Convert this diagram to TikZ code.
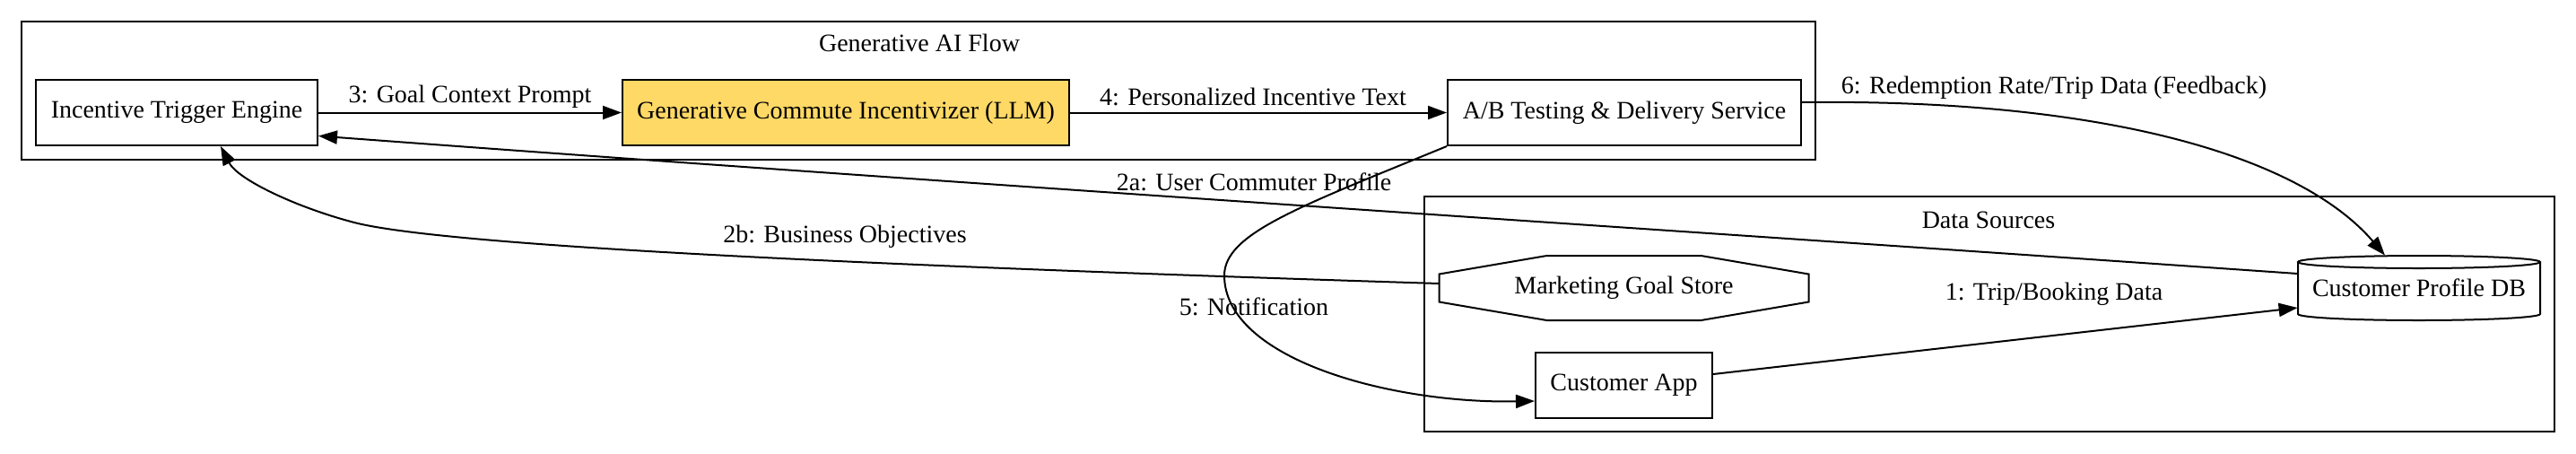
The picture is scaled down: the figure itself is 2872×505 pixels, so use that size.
\documentclass[tikz,border=0pt]{standalone}
\usepackage{fontspec}
\setmainfont{Liberation Serif}
\usetikzlibrary{arrows.meta}
\definecolor{llmyellow}{HTML}{FFD966}
\tikzset{
  txt/.style     = {font=\fontsize{14}{16}\selectfont},
  box/.style     = {txt, draw, line width=1pt, fill=white, minimum height=36.5pt, inner sep=0pt},
  llmbox/.style  = {box, fill=llmyellow},
  bare/.style    = {txt, minimum height=36pt, inner sep=0pt},
  lbl/.style     = {txt, inner sep=0pt},
  cluster/.style = {line width=1pt},
  edge/.style    = {line width=1pt, -{Triangle[length=10.5pt,width=7.5pt]}},
}

\begin{document}
\begin{tikzpicture}[x=0.5pt,y=-0.5pt]
  \useasboundingbox (0,0) rectangle (2872,505);
  % clusters
  \draw[cluster] (24,24) rectangle (2024,178);
  \node[lbl] (genai) at (1025,48) {Generative AI Flow};
  \draw[cluster] (1588,219) rectangle (2848,481);
  \node[lbl] (sources) at (2217,245) {Data Sources};

  % nodes
  \node[box, minimum width=157pt] (trigger) at (197,125.5) {Incentive Trigger Engine};
  \node[llmbox, minimum width=249pt] (llm) at (943,125.5) {Generative Commute Incentivizer (LLM)};
  \node[box, minimum width=197pt] (abtest) at (1811,125.5) {A/B Testing \& Delivery Service};
  \node[bare, minimum width=206pt] (goals) at (1810.5,321) {Marketing Goal Store};
  \draw[line width=1pt, shift={(goals.center)}] (-103pt,7.75pt) -- (-43pt,18pt) -- (43pt,18pt)
    -- (103pt,7.75pt) -- (103pt,-7.75pt) -- (43pt,-18pt) -- (-43pt,-18pt) -- (-103pt,-7.75pt) -- cycle;
  \node[box, minimum width=98.5pt] (app) at (1810.5,429) {Customer App};
  \node[bare, minimum width=135pt] (profiledb) at (2697,321) {Customer Profile DB};
  \draw[line width=1pt, shift={(profiledb.center)}] (-67.5pt,14.5pt) -- (-67.5pt,-14.5pt)
    arc[start angle=180, end angle=360, x radius=67.5pt, y radius=3.5pt] -- (67.5pt,14.5pt);
  \draw[line width=1pt, shift={(profiledb.center)}] (0pt,14.5pt) ellipse[x radius=67.5pt, y radius=3.5pt];

  % edges
  \draw[edge] (app.east) ++(0,-12) -- ([yshift=-11pt]profiledb.west);
  \node[lbl] (l1) at (2290,328) {1: Trip/Booking Data};
  \draw[edge] ([yshift=8pt]profiledb.west) .. controls (1800,252) and (1100,207) .. ([yshift=-13pt]trigger.east);
  \node[lbl] (l2a) at (1398,203) {2a: User Commuter Profile};
  \draw[edge] ([yshift=2.5pt]goals.west) .. controls (1000,297) and (500,275) .. (395,248)
    .. controls (330,231) and (265,200) .. ([xshift=24.5pt]trigger.south);
  \node[lbl] (l2b) at (942,264) {2b: Business Objectives};
  \draw[edge] (trigger) -- (llm);
  \node[lbl] (l3) at (524,108) {3: Goal Context Prompt};
  \draw[edge] (llm) -- (abtest);
  \node[lbl] (l4) at (1397,108) {4: Personalized Incentive Text};
  \draw[edge] (abtest.south west) .. controls (1450,230) and (1365,260) .. (1365,307)
    .. controls (1365,400) and (1550,450) .. ([yshift=-9pt]app.west);
  \node[lbl] (l5) at (1398,342) {5: Notification};
  \draw[edge] ([yshift=5.75pt]abtest.east) .. controls (2350,110) and (2565,175) .. ([xshift=-19pt]profiledb.north);
  \node[lbl] (l6) at (2290,98) {6: Redemption Rate/Trip Data (Feedback)};
\end{tikzpicture}
\end{document}
